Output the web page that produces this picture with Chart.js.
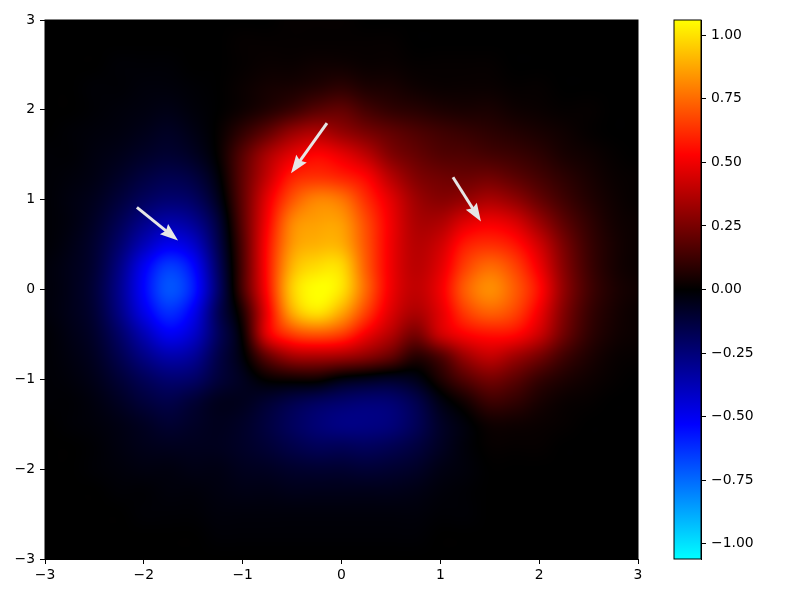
<!DOCTYPE html>
<html>
<head>
<meta charset="utf-8">
<title>Heatmap</title>
<script src="https://cdn.jsdelivr.net/npm/chart.js@4"></script>
<style>
  html, body { margin:0; padding:0; background:#fff; overflow:hidden; }
  canvas { position:absolute; top:0; }
  #ch-map { left:0; }
  #ch-bar { left:660px; }
</style>
</head>
<body>
<canvas id="ch-map" width="660" height="596"></canvas>
<canvas id="ch-bar" width="140" height="596"></canvas>
<script>
'use strict';

// grid
const xGrid = [-3,-2.75,-2.5,-2.25,-2,-1.75,-1.5,-1.25,-1,-0.75,-0.5,-0.25,0,0.25,0.5,0.75,1,1.25,1.5,1.75,2,2.25,2.5,2.75,3];
const yGrid = [3,2.75,2.5,2.25,2,1.75,1.5,1.25,1,0.75,0.5,0.25,0,-0.25,-0.5,-0.75,-1,-1.25,-1.5,-1.75,-2,-2.25,-2.5,-2.75,-3];

// one row per yGrid entry, in hundredths
const zRows = [
  [0,0,0,0,0,0,0,0,0,0,1,1,1,0,0,0,0,0,0,0,0,0,0,0,0],
  [0,0,0,0,0,0,0,0,1,1,1,1,1,1,1,0,0,0,0,0,0,0,0,0,0],
  [0,0,0,-1,-1,-1,0,0,1,2,2,3,3,2,2,1,1,1,1,0,0,0,0,0,0],
  [0,0,-1,-1,-2,-2,-1,0,2,4,5,7,9,6,5,3,2,2,2,1,1,0,0,0,0],
  [0,0,-1,-2,-3,-4,-2,0,3,7,12,18,20,14,10,8,6,5,5,3,2,1,1,0,0],
  [0,-1,-2,-3,-5,-7,-4,1,10,20,31,36,31,25,20,16,13,11,9,7,5,3,1,0,0],
  [-1,-1,-3,-5,-8,-10,-7,1,18,35,47,53,48,39,27,21,17,16,14,12,9,5,3,1,0],
  [-1,-2,-4,-8,-13,-16,-13,-2,20,41,59,63,60,53,38,27,23,22,23,19,14,9,5,2,1],
  [-1,-3,-6,-12,-19,-23,-20,-6,20,48,70,80,77,62,47,33,28,31,35,30,21,13,7,3,1],
  [-1,-3,-8,-17,-28,-35,-30,-12,19,52,80,86,85,68,50,36,36,46,50,45,32,19,10,4,2],
  [-1,-4,-10,-22,-38,-49,-42,-16,17,55,84,90,89,70,50,38,43,58,62,57,43,25,12,5,2],
  [-2,-5,-11,-27,-50,-65,-54,-20,16,56,90,99,98,72,50,39,47,66,75,67,50,28,13,5,2],
  [-2,-5,-12,-29,-53,-70,-58,-22,15,55,95,106,100,74,50,40,50,72,82,72,55,30,14,6,3],
  [-2,-5,-11,-27,-48,-62,-50,-18,7,50,88,100,88,66,46,36,47,65,73,67,50,27,12,5,2],
  [-1,-4,-9,-21,-37,-50,-42,-19,2,47,65,70,65,50,37,25,42,52,56,54,42,23,10,4,2],
  [-1,-3,-7,-16,-27,-35,-31,-15,-2,20,33,35,33,28,20,8,16,32,40,33,24,13,6,2,1],
  [-1,-2,-5,-11,-18,-23,-21,-12,-6,1,3,3,-3,-6,-8,-5,6,17,24,19,11,6,3,1,0],
  [-1,-1,-3,-7,-12,-15,-11,-6,-6,-10,-15,-19,-22,-24,-23,-16,-4,4,12,10,5,2,1,0,0],
  [0,-1,-2,-4,-7,-10,-8,-6,-8,-13,-19,-24,-27,-27,-25,-18,-8,-2,3,3,2,1,0,0,0],
  [0,0,-1,-3,-5,-6,-6,-6,-8,-11,-15,-18,-18,-19,-17,-13,-7,-2,1,1,1,0,0,0,0],
  [0,0,-1,-2,-3,-3,-4,-4,-6,-7,-9,-10,-10,-11,-10,-8,-4,-2,0,0,0,0,0,0,0],
  [0,0,0,-1,-1,-2,-2,-3,-4,-4,-5,-5,-5,-5,-5,-4,-2,-1,0,0,0,0,0,0,0],
  [0,0,0,0,-1,-1,-1,-2,-2,-2,-2,-2,-2,-2,-2,-2,-1,-1,0,0,0,0,0,0,0],
  [0,0,0,0,0,0,0,-1,-1,-1,-1,-1,-1,-1,-1,-1,0,0,0,0,0,0,0,0,0],
  [0,0,0,0,0,0,0,0,0,0,0,0,0,0,0,0,0,0,0,0,0,0,0,0,0]
];

const axisTicks = [-3,-2,-1,0,1,2,3];
const barTicks = [-1,-0.75,-0.5,-0.25,0,0.25,0.5,0.75,1];
const zLimit = 1.06;

// arrows: [tail x, tail y, tip x, tip y]
const arrows = [
  [-2.07,0.914,-1.654,0.546],
  [-0.147,1.851,-0.511,1.294],
  [1.128,1.249,1.411,0.758]
];

Chart.defaults.animation = false;
Chart.defaults.color = '#000';
Chart.defaults.font.family = "'DejaVu Sans', sans-serif";
Chart.defaults.font.size = 13.9;
Chart.defaults.plugins.legend.display = false;
Chart.defaults.plugins.tooltip.enabled = false;

const minus = v => String(v).replace('-', '\u2212');

// cyan - blue - black - red - yellow
const cmapStops = [[0,255,255],[0,0,255],[0,0,0],[255,0,0],[255,255,0]];
function zColor(v) {
  const t = Math.min(0.9999, Math.max(0, (v + zLimit) / (2 * zLimit))) * 4;
  const i = Math.floor(t), f = t - i;
  return cmapStops[i].map((c, k) => Math.round(c + (cmapStops[i + 1][k] - c) * f));
}

const cells = [];
yGrid.forEach((y, r) => xGrid.forEach((x, c) => cells.push({x, y, v: zRows[r][c] / 100})));

function frame(chart) {
  const a = chart.chartArea, ctx = chart.ctx;
  ctx.save();
  ctx.strokeStyle = '#000';
  ctx.lineWidth = 1;
  ctx.strokeRect(a.left, a.top, a.width, a.height);
  ctx.restore();
}

// bicubic image smoothing of the grid, same idea as imshow(interpolation='bicubic')
function cubic(p0, p1, p2, p3, t) {
  return p1 + 0.5 * t * (p2 - p0 + t * (2 * p0 - 5 * p1 + 4 * p2 - p3 + t * (3 * (p1 - p2) + p3 - p0)));
}
function smoothZ(data, col, row) {
  const nx = xGrid.length, ny = yGrid.length;
  const c = Math.floor(col), r = Math.floor(row), fc = col - c, fr = row - r;
  const at = (i, j) => data[Math.max(0, Math.min(ny - 1, j)) * nx + Math.max(0, Math.min(nx - 1, i))].v;
  const rowVal = j => cubic(at(c - 1, j), at(c, j), at(c + 1, j), at(c + 2, j), fc);
  return cubic(rowVal(r - 1), rowVal(r), rowVal(r + 1), rowVal(r + 2), fr);
}

const heatPlugin = {
  id: 'heat',
  beforeDatasetsDraw(chart) {
    const {ctx, chartArea: a, scales: {x, y}} = chart;
    const data = chart.data.datasets[0].data;
    const w = Math.round(a.width), h = Math.round(a.height);
    const off = document.createElement('canvas');
    off.width = w; off.height = h;
    const octx = off.getContext('2d');
    const img = octx.createImageData(w, h);
    const stepX = xGrid[1] - xGrid[0], stepY = yGrid[0] - yGrid[1];
    for (let py = 0; py < h; py++) {
      const row = (yGrid[0] - y.getValueForPixel(a.top + py + 0.5)) / stepY;
      for (let px = 0; px < w; px++) {
        const col = (x.getValueForPixel(a.left + px + 0.5) - xGrid[0]) / stepX;
        const rgb = zColor(smoothZ(data, col, row));
        img.data.set([rgb[0], rgb[1], rgb[2], 255], (py * w + px) * 4);
      }
    }
    octx.putImageData(img, 0, 0);
    ctx.drawImage(off, a.left, a.top);
  },
  afterDatasetsDraw(chart) {
    const {ctx, scales: {x, y}} = chart;
    ctx.save();
    ctx.strokeStyle = ctx.fillStyle = 'rgb(230,230,230)';
    arrows.forEach(([tx, ty, hx, hy]) => {
      const x0 = x.getPixelForValue(tx), y0 = y.getPixelForValue(ty);
      const x1 = x.getPixelForValue(hx), y1 = y.getPixelForValue(hy);
      const ang = Math.atan2(y1 - y0, x1 - x0);
      const ux = Math.cos(ang), uy = Math.sin(ang);
      ctx.lineWidth = 3;
      ctx.beginPath();
      ctx.moveTo(x0, y0);
      ctx.lineTo(x1 - ux * 15, y1 - uy * 15);
      ctx.stroke();
      ctx.beginPath();
      ctx.moveTo(x1, y1);
      ctx.lineTo(x1 - ux * 18 - uy * 6.5, y1 - uy * 18 + ux * 6.5);
      ctx.lineTo(x1 - ux * 15.5, y1 - uy * 15.5);
      ctx.lineTo(x1 - ux * 18 + uy * 6.5, y1 - uy * 18 - ux * 6.5);
      ctx.closePath();
      ctx.fill();
    });
    ctx.restore();
  },
  afterDraw: frame
};

const tickGrid = {drawOnChartArea:false, tickLength:5, tickColor:'#000', tickWidth:1};

new Chart(document.getElementById('ch-map'), {
  type: 'scatter',
  data: {datasets:[{data:cells, pointRadius:0, showLine:false}]},
  plugins: [heatPlugin],
  options: {
    responsive:false,
    layout:{padding:{top:20, right:22, left:0, bottom:0}},
    scales:{
      x:{min:-3, max:3, grid:tickGrid, border:{color:'#000'},
        afterBuildTicks:s => { s.ticks = axisTicks.map(value => ({value})); },
        afterFit:s => { s.height = 37; },
        ticks:{padding:3, maxRotation:0, autoSkip:false, callback:minus}},
      y:{min:-3, max:3, grid:tickGrid, border:{color:'#000'},
        afterBuildTicks:s => { s.ticks = axisTicks.map(value => ({value})); },
        afterFit:s => { s.width = 45; },
        ticks:{padding:5, autoSkip:false, callback:minus}}
    }
  }
});

new Chart(document.getElementById('ch-bar'), {
  type: 'bar',
  data: {
    labels:['z'],
    datasets:[{
      data:[[-zLimit, zLimit]],
      barPercentage:1, categoryPercentage:1, borderWidth:0,
      backgroundColor(c) {
        const a = c.chart.chartArea;
        if (!a) return '#000';
        const g = c.chart.ctx.createLinearGradient(0, a.bottom, 0, a.top);
        cmapStops.forEach((s, i) => g.addColorStop(i / 4, `rgb(${s[0]},${s[1]},${s[2]})`));
        return g;
      }
    }]
  },
  plugins: [{id:'barFrame', afterDraw:frame}],
  options: {
    responsive:false,
    layout:{padding:{top:20, left:14, right:0, bottom:37}},
    scales:{
      x:{display:false},
      y:{position:'right', min:-zLimit, max:zLimit, grid:tickGrid, border:{color:'#000'},
        afterBuildTicks:s => { s.ticks = barTicks.map(value => ({value})); },
        afterFit:s => { s.width = 99; },
        ticks:{padding:5, autoSkip:false, callback:v => minus(v.toFixed(2))}}
    }
  }
});
</script>
</body>
</html>
